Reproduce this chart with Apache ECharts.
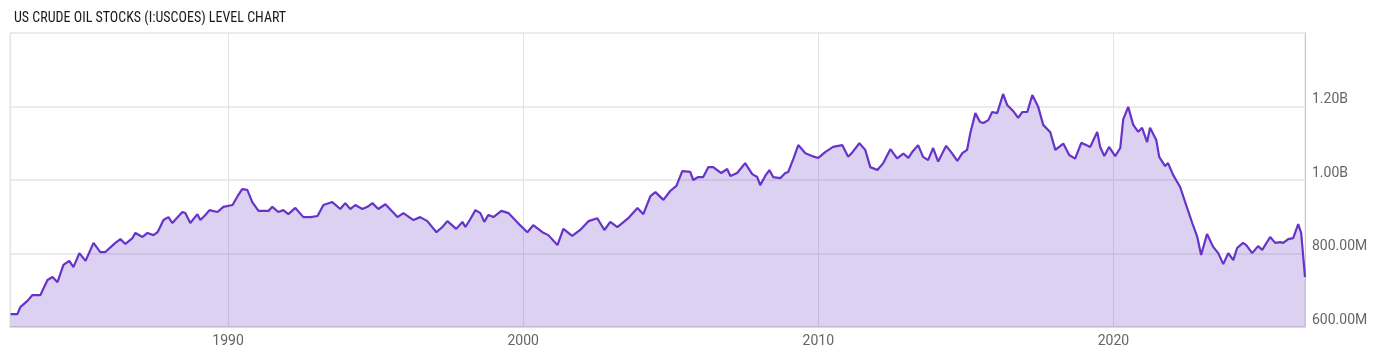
<!DOCTYPE html>
<html>
<head>
<meta charset="utf-8">
<script src="https://cdn.jsdelivr.net/npm/echarts@6/dist/echarts.min.js"></script>
<style>
html,body{margin:0;padding:0;background:#fff;}
#chart{width:1400px;height:357px;}
</style>
</head>
<body>
<div id="chart"></div>
<script>
// Decimal years of each reading
const years = [
1982.63,1982.86,1982.96,1983.20,1983.37,1983.64,1983.88,1984.05,1984.22,1984.42,1984.62,1984.76,1984.96,1985.17,1985.44,1985.67,1985.84,
1986.18,1986.35,1986.52,1986.76,1986.86,1987.10,1987.27,1987.47,1987.61,1987.81,1987.98,1988.11,1988.45,1988.55,1988.72,1988.96,
1989.06,1989.23,1989.37,1989.64,1989.84,1990.15,1990.32,1990.48,1990.65,1990.82,1991.03,1991.37,1991.50,1991.70,1991.87,
1992.04,1992.28,1992.55,1992.79,1993.03,1993.23,1993.53,1993.80,1993.97,1994.14,1994.31,1994.55,1994.72,1994.89,1995.09,1995.33,
1995.74,1995.94,1996.28,1996.51,1996.75,1997.06,1997.26,1997.43,1997.73,1997.94,1998.04,1998.21,1998.38,1998.55,1998.68,1998.82,
1998.99,1999.26,1999.50,1999.83,2000.14,2000.34,2000.65,2000.85,2001.16,2001.36,2001.66,2001.93,2002.21,2002.51,2002.75,2002.95,
2003.19,2003.56,2003.87,2004.07,2004.31,2004.48,2004.75,2004.98,2005.19,2005.39,2005.66,2005.76,2005.93,2006.10,2006.27,2006.44,
2006.71,2006.91,2007.02,2007.25,2007.52,2007.76,2007.93,2008.03,2008.20,2008.34,2008.47,2008.71,2008.88,2008.98,2009.15,2009.32,
2009.56,2009.79,2010.00,2010.23,2010.50,2010.81,2011.01,2011.15,2011.39,2011.59,2011.76,2012.00,2012.20,2012.44,2012.67,2012.88,
2013.05,2013.18,2013.38,2013.55,2013.72,2013.89,2014.06,2014.33,2014.50,2014.71,2014.88,2015.04,2015.15,2015.32,2015.48,2015.59,
2015.76,2015.89,2016.06,2016.26,2016.40,2016.60,2016.77,2016.91,2017.08,2017.25,2017.45,2017.62,2017.86,2018.03,2018.30,2018.50,
2018.70,2018.91,2019.11,2019.21,2019.45,2019.55,2019.69,2019.85,2020.06,2020.23,2020.33,2020.50,2020.67,2020.84,2020.97,2021.14,
2021.24,2021.45,2021.55,2021.75,2021.85,2022.02,2022.26,2022.43,2022.67,2022.84,2022.97,2023.17,2023.38,2023.55,2023.72,2023.89,
2024.06,2024.19,2024.39,2024.50,2024.70,2024.90,2025.04,2025.31,2025.48,2025.65,2025.75,2025.92,2026.09,2026.26,2026.36,2026.49
];
// Crude oil stocks, millions of barrels
const stocksM = [
635,635,654,671,687,687,728,736,722,769,780,763,801,780,829,804,804,
829,839,826,842,856,845,856,850,858,891,899,883,913,910,883,907,
891,905,918,913,927,932,956,975,973,940,916,916,927,913,918,
907,924,899,899,902,932,940,921,937,921,932,921,927,937,921,934,
899,910,891,899,888,858,872,888,867,886,872,894,918,910,886,905,
899,916,910,882,858,877,858,850,823,867,848,864,888,896,864,886,
872,896,924,907,956,967,946,970,984,1024,1022,1000,1008,1008,1035,1035,
1019,1030,1011,1019,1046,1016,1008,986,1011,1027,1008,1005,1019,1022,1057,1095,
1073,1065,1060,1076,1090,1095,1063,1075,1100,1082,1035,1027,1046,1084,1059,1072,
1060,1076,1095,1063,1054,1087,1050,1093,1076,1052,1073,1082,1128,1182,1158,1155,
1163,1185,1182,1234,1204,1188,1169,1185,1185,1231,1199,1150,1130,1082,1099,1068,
1058,1101,1094,1090,1131,1090,1065,1090,1065,1087,1165,1199,1150,1131,1142,1103,
1142,1109,1063,1038,1046,1014,981,940,883,845,796,853,818,801,771,801,
782,815,829,823,801,820,810,845,829,831,829,839,842,880,856,736
];
const yTicks = [600, 800, 1000, 1200, 1400];
const yTickLabels = ['600.00M', '800.00M', '1.00B', '1.20B', ''];
const titleText = 'US CRUDE OIL STOCKS (I:USCOES) LEVEL CHART';

const seriesData = years.map((y, i) => [y, stocksM[i]]);
const chart = echarts.init(document.getElementById('chart'), null, {renderer: 'canvas'});
chart.setOption({
  animation: false,
  backgroundColor: '#fff',
  title: {
    text: titleText,
    left: 9, top: 6,
    textStyle: {
      fontFamily: "'Roboto Condensed','Liberation Sans Narrow','DejaVu Sans Condensed',Roboto,sans-serif",
      fontSize: 14, fontWeight: 'normal', color: '#1a1a1a'
    }
  },
  grid: {
    left: 10, right: 95, top: 33, bottom: 30,
    show: true, borderColor: '#e2e2e2', borderWidth: 1
  },
  xAxis: {
    type: 'value',
    min: years[0] - 0.02, max: years[years.length - 1],
    splitNumber: 4, minInterval: 10, maxInterval: 10,
    axisLine: {show: true, lineStyle: {color: '#dcdcdc', width: 2}},
    axisTick: {show: false},
    axisLabel: {
      showMinLabel: false, showMaxLabel: false,
      color: '#666', fontSize: 14, fontFamily: 'Roboto', margin: 7,
      formatter: v => String(Math.round(v))
    },
    splitLine: {show: true, lineStyle: {color: '#e3e3e3', width: 1}}
  },
  yAxis: {
    type: 'value', position: 'right',
    min: yTicks[0], max: yTicks[yTicks.length - 1], interval: 200,
    axisLine: {show: true, lineStyle: {color: '#c8c8c8', width: 1}},
    axisTick: {show: false},
    axisLabel: {
      showMaxLabel: false,
      color: '#666', fontSize: 14, fontFamily: 'Roboto', margin: 7,
      verticalAlign: 'bottom',
      formatter: v => yTickLabels[yTicks.indexOf(v)] || ''
    },
    splitLine: {show: true, lineStyle: {color: '#ececec', width: 2}}
  },
  series: [{
    type: 'line',
    data: seriesData,
    showSymbol: false,
    smooth: false,
    lineStyle: {color: '#6634c8', width: 2.2},
    areaStyle: {color: 'rgba(103,58,190,0.33)'},
    z: 1
  }]
});
</script>
</body>
</html>
